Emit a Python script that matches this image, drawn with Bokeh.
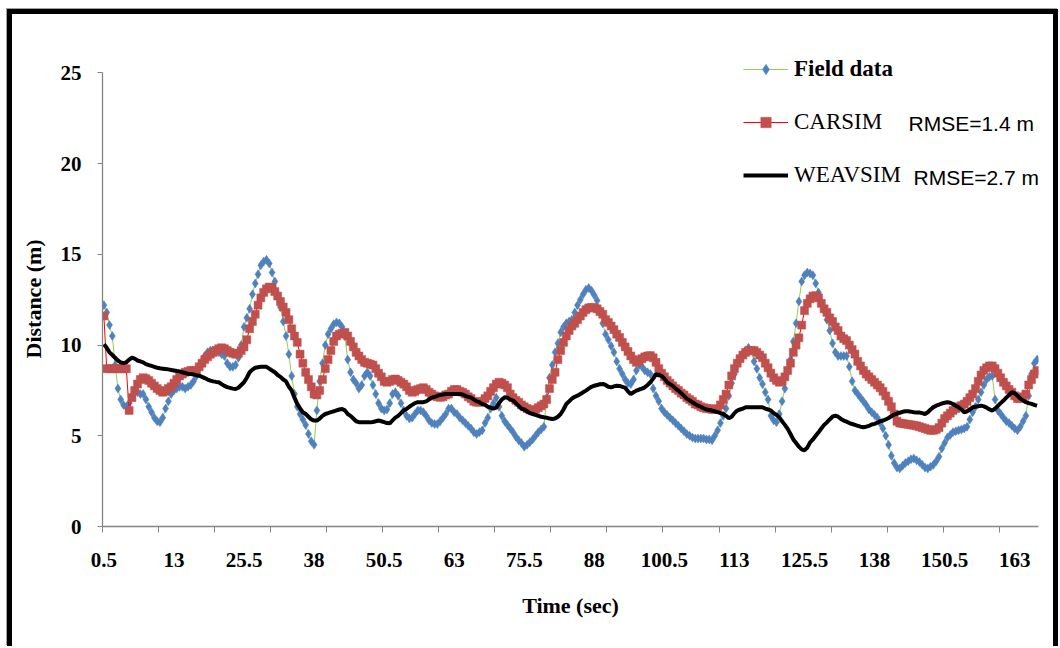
from bokeh.plotting import figure
from bokeh.models import (Range1d, FixedTicker, Legend, LegendItem, Label,
                          Title, InlineStyleSheet)
from bokeh.embed import file_html
from bokeh.resources import INLINE

# ---- data -------------------------------------------------------------
# time categories: 0.5 s steps, 0.5 .. 167
time_sec = [0.5 * (k + 1) for k in range(334)]

field_data = [
    12.2, 11.8, 11.1, 10.5, 8.9, 7.6, 7.0, 6.7, 6.6, 6.8,
    7.2, 7.4, 7.4, 7.3, 7.3, 7.0, 6.6, 6.3, 6.0, 5.8,
    5.75, 6.0, 6.5, 6.9, 7.3, 7.5, 7.6, 7.7, 7.7, 7.6,
    7.7, 7.8, 8.0, 8.3, 8.7, 9.1, 9.4, 9.6, 9.7, 9.7,
    9.6, 9.6, 9.5, 9.4, 9.0, 8.8, 8.8, 8.9, 9.3, 10.0,
    11.0, 11.5, 12.0, 12.8, 13.4, 13.9, 14.4, 14.6, 14.7, 14.5,
    14.0, 13.5, 12.8, 12.1, 11.3, 10.5, 9.5, 8.3, 7.3, 6.6,
    6.2, 5.9, 5.6, 5.1, 4.7, 4.5, 6.4, 8.0, 9.0, 10.0,
    10.6, 10.9, 11.15, 11.25, 11.2, 11.0, 10.5, 9.2, 8.5, 8.1,
    7.9, 7.6, 7.8, 8.3, 8.5, 8.3, 7.8, 7.3, 6.8, 6.5,
    6.4, 6.45, 6.8, 7.3, 7.4, 7.2, 6.8, 6.4, 6.1, 5.95,
    6.0, 6.2, 6.4, 6.4, 6.3, 6.1, 5.85, 5.7, 5.65, 5.65,
    5.8, 6.0, 6.2, 6.5, 6.5, 6.3, 6.2, 6.0, 5.85, 5.7,
    5.55, 5.4, 5.2, 5.1, 5.2, 5.3, 5.7, 6.0, 6.5, 6.8,
    7.1, 6.6, 6.1, 5.8, 5.6, 5.4, 5.2, 4.95, 4.75, 4.6,
    4.4, 4.5, 4.65, 4.8, 5.0, 5.2, 5.35, 5.5, 7.1, 8.2,
    8.9, 9.6, 10.1, 10.7, 11.0, 11.2, 11.3, 11.4, 11.8, 12.2,
    12.5, 12.8, 13.05, 13.15, 13.0, 12.75, 12.45, 11.8, 11.2, 10.6,
    10.3, 9.95, 9.6, 9.1, 8.7, 8.4, 8.1, 7.9, 7.85, 8.1,
    8.6, 8.9, 8.8, 8.6, 8.5, 8.4, 7.6, 7.2, 6.9, 6.5,
    6.3, 6.15, 6.0, 5.85, 5.7, 5.55, 5.4, 5.25, 5.1, 5.0,
    4.9, 4.85, 4.85, 4.85, 4.85, 4.8, 4.8, 4.75, 5.0, 5.3,
    5.7, 6.1, 6.5, 7.2, 7.9, 8.4, 8.9, 9.2, 9.5, 9.7,
    9.85, 9.7, 9.1, 8.7, 8.2, 7.85, 7.4, 7.0, 6.1, 5.85,
    5.75, 6.2, 6.9, 7.6, 8.5, 9.2, 10.2, 11.2, 12.4, 13.5,
    13.85, 14.0, 13.95, 13.85, 13.4, 12.9, 12.3, 11.9, 11.4, 10.8,
    10.1, 9.6, 9.4, 9.4, 9.4, 9.4, 8.8, 8.0, 7.5, 7.3,
    7.1, 6.9, 6.7, 6.45, 6.3, 6.15, 6.0, 5.7, 5.4, 5.0,
    4.5, 3.9, 3.5, 3.25, 3.2, 3.35, 3.5, 3.6, 3.7, 3.75,
    3.65, 3.55, 3.4, 3.25, 3.2, 3.3, 3.4, 3.6, 3.85, 4.3,
    4.6, 4.9, 5.05, 5.2, 5.25, 5.3, 5.35, 5.4, 5.5, 5.9,
    6.3, 6.6, 7.0, 7.4, 7.8, 8.1, 8.25, 8.3, 7.0, 6.4,
    6.2, 6.0, 5.8, 5.7, 5.55, 5.4, 5.3, 5.5, 5.8, 6.1,
    7.2, 8.4, 9.0, 9.2,
]

carsim = [
    11.6, 8.7, 8.7, 8.7, 8.7, 8.7, 8.7, 8.7, 8.7, 6.4,
    7.1, 7.5, 7.85, 8.1, 8.2, 8.15, 8.05, 7.9, 7.75, 7.6,
    7.5, 7.4, 7.45, 7.6, 7.7, 7.9, 8.1, 8.3, 8.4, 8.5,
    8.55, 8.6, 8.6, 8.6, 8.8, 9.0, 9.2, 9.35, 9.5, 9.6,
    9.7, 9.8, 9.85, 9.8, 9.7, 9.6, 9.55, 9.5, 9.55, 9.7,
    9.9, 10.3, 10.9, 11.3, 11.7, 12.2, 12.6, 12.9, 13.1, 13.2,
    13.15, 12.95, 12.7, 12.4, 12.1, 11.8, 11.4, 10.9, 10.5, 10.15,
    9.5, 9.0, 8.5, 8.1, 7.7, 7.3, 7.25, 7.5, 8.1, 8.7,
    9.2, 9.7, 10.2, 10.5, 10.6, 10.65, 10.7, 10.5, 10.2, 9.9,
    9.6, 9.4, 9.2, 9.05, 9.0, 8.95, 8.9, 8.7, 8.45, 8.25,
    8.0, 7.95, 8.0, 8.1, 8.13, 8.05, 7.95, 7.85, 7.7, 7.5,
    7.4, 7.45, 7.55, 7.6, 7.65, 7.55, 7.4, 7.3, 7.2, 7.15,
    7.12, 7.15, 7.25, 7.3, 7.45, 7.55, 7.55, 7.45, 7.4, 7.3,
    7.15, 7.05, 6.9, 6.85, 6.85, 6.9, 7.05, 7.2, 7.45, 7.65,
    7.85, 7.95, 7.9, 7.8, 7.65, 7.3, 7.1, 6.95, 6.85, 6.7,
    6.6, 6.5, 6.42, 6.39, 6.45, 6.55, 6.65, 6.75, 7.0, 7.6,
    8.1, 8.5, 9.2, 9.7, 10.15, 10.5, 10.8, 11.05, 11.2, 11.4,
    11.6, 11.8, 11.95, 12.05, 12.08, 12.05, 12.0, 11.85, 11.7, 11.4,
    11.25, 11.05, 10.85, 10.6, 10.42, 10.15, 9.9, 9.65, 9.4, 9.2,
    9.05, 9.1, 9.25, 9.35, 9.4, 9.42, 9.3, 9.05, 8.7, 8.45,
    8.25, 8.05, 7.9, 7.75, 7.6, 7.5, 7.35, 7.25, 7.1, 7.0,
    6.9, 6.75, 6.7, 6.6, 6.55, 6.5, 6.5, 6.45, 6.45, 6.5,
    6.7, 7.0, 7.3, 7.8, 8.3, 8.7, 9.0, 9.25, 9.45, 9.6,
    9.68, 9.7, 9.7, 9.6, 9.45, 9.3, 9.0, 8.75, 8.45, 8.2,
    8.05, 7.95, 8.0, 8.25, 8.6, 9.0, 9.6, 10.0, 10.4, 11.1,
    11.9, 12.3, 12.55, 12.7, 12.72, 12.6, 12.3, 12.0, 11.8, 11.5,
    11.3, 11.0, 10.8, 10.5, 10.35, 10.25, 10.0, 9.75, 9.5, 9.1,
    8.85, 8.6, 8.4, 8.25, 8.1, 7.95, 7.8, 7.65, 7.45, 7.2,
    6.9, 6.6, 6.2, 5.8, 5.7, 5.68, 5.65, 5.63, 5.6, 5.58,
    5.55, 5.5, 5.45, 5.4, 5.35, 5.3, 5.3, 5.35, 5.45, 5.7,
    5.95, 6.1, 6.25, 6.4, 6.5, 6.6, 6.66, 6.75, 6.9, 7.1,
    7.3, 7.6, 8.0, 8.35, 8.6, 8.75, 8.85, 8.85, 8.7, 8.45,
    8.2, 7.95, 7.75, 7.55, 7.4, 7.2, 7.05, 7.05, 7.15, 7.3,
    7.8, 8.1, 8.4, 8.6,
]

weavsim = [
    10.05, 9.85, 9.6, 9.45, 9.3, 9.15, 9.05, 9.0, 9.05, 9.2,
    9.3, 9.25, 9.15, 9.1, 9.05, 8.95, 8.9, 8.85, 8.8, 8.75,
    8.72, 8.7, 8.68, 8.66, 8.63, 8.6, 8.57, 8.55, 8.5, 8.46,
    8.42, 8.4, 8.38, 8.34, 8.31, 8.25, 8.18, 8.1, 8.04, 8.0,
    7.97, 7.95, 7.85, 7.75, 7.68, 7.64, 7.6, 7.58, 7.65, 7.8,
    7.95, 8.2, 8.5, 8.65, 8.75, 8.78, 8.8, 8.81, 8.8, 8.7,
    8.6, 8.5, 8.35, 8.25, 8.1, 8.0, 7.7, 7.5, 7.1, 6.76,
    6.5, 6.3, 6.2, 6.05, 5.9, 5.84, 5.84, 5.95, 6.1, 6.2,
    6.25, 6.3, 6.35, 6.4, 6.45, 6.48, 6.4, 6.2, 6.1, 5.95,
    5.8, 5.75, 5.74, 5.74, 5.74, 5.74, 5.76, 5.8, 5.84, 5.8,
    5.75, 5.7, 5.69, 5.85, 6.0, 6.1, 6.25, 6.4, 6.48, 6.6,
    6.7, 6.8, 6.85, 6.85, 6.85, 6.9, 7.0, 7.1, 7.15, 7.2,
    7.25, 7.28, 7.3, 7.3, 7.3, 7.3, 7.3, 7.3, 7.28, 7.2,
    7.15, 7.1, 7.0, 6.9, 6.85, 6.75, 6.7, 6.6, 6.55, 6.5,
    6.55, 6.8, 7.0, 7.12, 7.1, 7.0, 6.94, 6.8, 6.65, 6.5,
    6.45, 6.35, 6.25, 6.2, 6.15, 6.1, 6.05, 6.02, 6.0, 5.95,
    5.93, 5.95, 6.05, 6.2, 6.45, 6.75, 6.9, 7.05, 7.15, 7.21,
    7.3, 7.4, 7.49, 7.6, 7.7, 7.76, 7.8, 7.84, 7.86, 7.8,
    7.7, 7.67, 7.72, 7.76, 7.75, 7.7, 7.65, 7.45, 7.3, 7.4,
    7.49, 7.55, 7.6, 7.67, 7.8, 7.95, 8.15, 8.4, 8.35, 8.3,
    8.15, 7.95, 7.85, 7.75, 7.6, 7.49, 7.35, 7.2, 7.05, 6.95,
    6.85, 6.75, 6.66, 6.6, 6.52, 6.45, 6.42, 6.39, 6.35, 6.3,
    6.25, 6.2, 6.1, 5.97, 6.05, 6.25, 6.39, 6.45, 6.5, 6.57,
    6.57, 6.57, 6.57, 6.57, 6.57, 6.57, 6.5, 6.45, 6.39, 6.25,
    6.15, 6.02, 5.8, 5.6, 5.38, 5.1, 4.8, 4.6, 4.4, 4.25,
    4.2, 4.35, 4.64, 4.8, 5.0, 5.19, 5.4, 5.6, 5.74, 5.9,
    6.05, 6.11, 6.05, 5.93, 5.84, 5.78, 5.7, 5.65, 5.6, 5.55,
    5.5, 5.47, 5.5, 5.55, 5.62, 5.66, 5.72, 5.8, 5.84, 5.9,
    5.98, 6.08, 6.17, 6.22, 6.27, 6.32, 6.35, 6.35, 6.33, 6.3,
    6.29, 6.28, 6.25, 6.2, 6.3, 6.45, 6.58, 6.66, 6.72, 6.78,
    6.82, 6.85, 6.82, 6.75, 6.65, 6.57, 6.45, 6.29, 6.35, 6.45,
    6.57, 6.6, 6.63, 6.66, 6.62, 6.55, 6.45, 6.39, 6.5, 6.65,
    6.8, 6.94, 7.1, 7.25, 7.4, 7.35, 7.21, 7.05, 6.95, 6.85,
    6.8, 6.76, 6.7, 6.66,
]

x_tick_labels = ["0.5", "13", "25.5", "38", "50.5", "63", "75.5", "88",
                 "100.5", "113", "125.5", "138", "150.5", "163"]
y_ticks = [0, 5, 10, 15, 20, 25]

# ---- figure -----------------------------------------------------------
AXIS_GREY = "#868686"
SERIF = "Liberation Serif"

label_pos = [float(s) for s in x_tick_labels]
tick_marks = [0.25 + 10 * k for k in range(17)]

p = figure(width=1060, height=646,
           x_range=Range1d(0.25, 167.25), y_range=Range1d(0, 28),
           output_backend="svg", toolbar_location=None,
           min_border_left=102, min_border_right=22,
           min_border_top=18, min_border_bottom=120)

# black frame round the whole chart, drawn above the canvas
frame_css = """
:host { position: relative; }
:host::after {
  content: "";
  position: absolute;
  left: 7px; top: 9px; right: 2px; bottom: 0px;
  box-sizing: border-box;
  border-top: 5px solid black;
  border-left: 5px solid black;
  border-right: 5px solid black;
  box-shadow: -1px -1px 0px 0px #a0a0a0;
  pointer-events: none;
  z-index: 50;
}
"""
p.stylesheets = [InlineStyleSheet(css=frame_css)]

p.outline_line_color = None
p.xgrid.visible = False
p.ygrid.visible = False
p.background_fill_color = "white"
p.border_fill_color = "white"

# x axis: labels at every 25th category, tick marks every 20 categories
p.xaxis.ticker = FixedTicker(ticks=label_pos, minor_ticks=tick_marks)
p.xaxis.major_label_overrides = {v: s for v, s in zip(label_pos, x_tick_labels)}
p.xaxis.major_tick_line_color = None
p.xaxis.major_tick_out = 6
p.xaxis.major_tick_in = 0
p.xaxis.minor_tick_line_color = AXIS_GREY
p.xaxis.minor_tick_out = 6
p.xaxis.minor_tick_in = 0
p.xaxis.major_label_standoff = 20
p.xaxis.axis_label = "Time (sec)"
p.xaxis.axis_label_standoff = 23

p.yaxis.ticker = FixedTicker(ticks=y_ticks)
p.yaxis.bounds = (0, 25)
p.yaxis.major_tick_out = 5
p.yaxis.major_tick_in = 0
p.yaxis.major_tick_line_color = AXIS_GREY
p.yaxis.minor_tick_line_color = None
p.yaxis.major_label_standoff = 16

for ax in (p.xaxis, p.yaxis):
    ax.axis_line_color = AXIS_GREY
    ax.axis_line_width = 1.3
    ax.major_label_text_font = SERIF
    ax.major_label_text_font_style = "bold"
    ax.major_label_text_font_size = "21px"
    ax.major_label_text_color = "black"
    ax.axis_label_text_font = SERIF
    ax.axis_label_text_font_style = "bold"
    ax.axis_label_text_font_size = "22px"
    ax.axis_label_text_color = "black"

# y-axis title centred on the 0-25 span (frame reaches higher for the legend)
p.add_layout(Title(text="Distance (m)", align="left", offset=168,
                   standoff=24, text_font=SERIF, text_font_style="bold",
                   text_font_size="22px", text_color="black"), "left")

# ---- series -----------------------------------------------------------
f_line = p.line(time_sec, field_data, line_color="#92D050", line_width=1)
f_mark = p.scatter(time_sec, field_data, marker="diamond", size=9,
                   fill_color="#4F81BD", line_color="#4F81BD", line_width=0.5)
c_line = p.line(time_sec, carsim, line_color="#FF0000", line_width=1)
c_mark = p.scatter(time_sec, carsim, marker="square", size=8,
                   fill_color="#C0504D", line_color="#C0504D", line_width=0.5)
w_line = p.line(time_sec, weavsim, line_color="black", line_width=4)

# ---- legends (one per entry so fonts can differ) -------------------------
def make_legend(label, renderers, style, vy):
    lg = Legend(items=[LegendItem(label=label, renderers=renderers)],
                location=(641, vy), orientation="vertical",
                padding=0, margin=0, glyph_width=45, glyph_height=26,
                label_height=26, label_standoff=6,
                border_line_color=None, background_fill_alpha=0,
                label_text_font=SERIF, label_text_font_style=style,
                label_text_font_size="23px", label_text_color="black")
    p.add_layout(lg)

make_legend("Field data", [f_line, f_mark], "bold", 444)
make_legend("CARSIM", [c_line, c_mark], "normal", 391)
make_legend("WEAVSIM", [w_line], "normal", 338)

for txt, sx, sy in (("RMSE=1.4 m", 806, 403), ("RMSE=2.7 m", 811, 349)):
    p.add_layout(Label(x=sx, y=sy, x_units="screen", y_units="screen",
                       text=txt, text_font="Liberation Sans",
                       text_font_size="21px", text_color="black",
                       text_align="left", text_baseline="middle"))

open("out.html", "w").write(file_html(p, INLINE))
